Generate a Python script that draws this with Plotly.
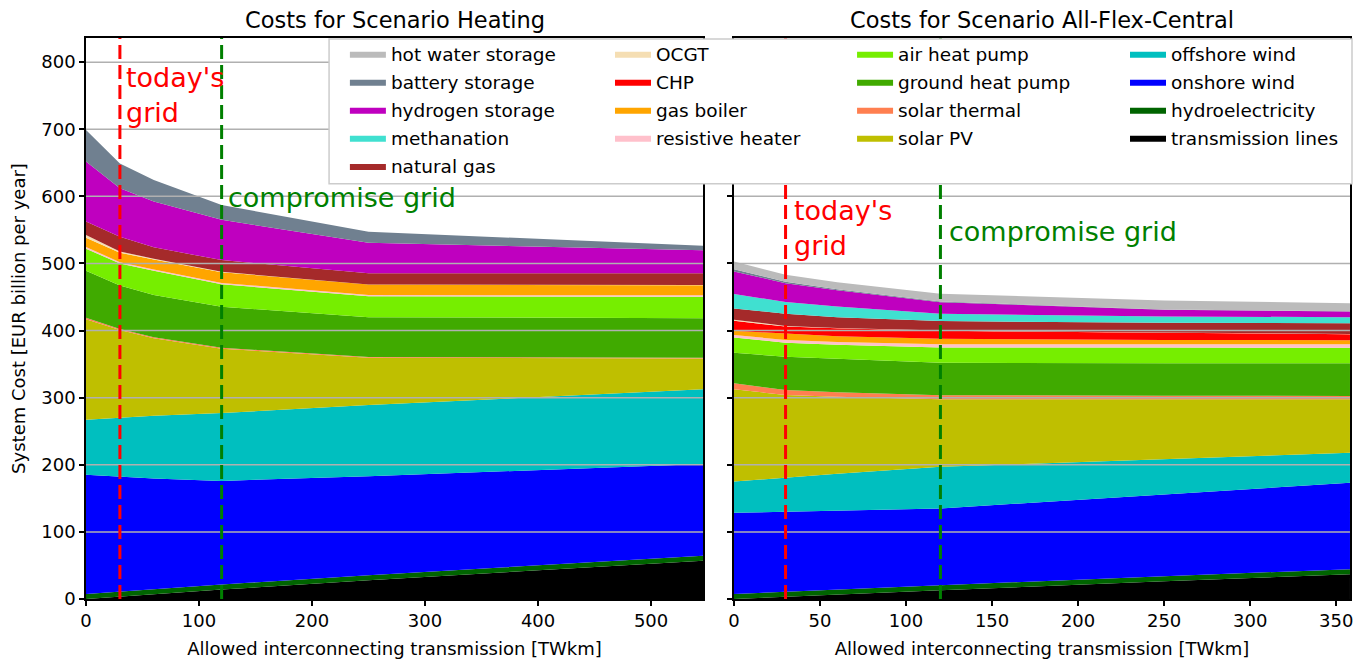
import plotly.graph_objects as go
from plotly.subplots import make_subplots

# allowed interconnecting transmission volume [TWkm]
heating_x = [0, 30, 60, 120, 250, 546]
flex_x = [0, 30, 60, 120, 250, 358]

# Scenario Heating, system cost by technology [EUR billion per year]
heating_transmission = [0, 3.5, 7, 14, 28, 57]
heating_hydro = [7.5, 7.5, 7.5, 7.5, 7.5, 7.5]
heating_onshore = [177.5, 171, 165, 154.5, 147.5, 136.5]
heating_offshore = [82, 88, 93.5, 101, 106, 111.5]
heating_solar_pv = [150, 131, 115.5, 96, 70.5, 46]
heating_solar_thermal = [2, 1.5, 1.5, 1.5, 1, 1]
heating_ground_hp = [70, 64.5, 63, 61, 59.5, 59]
heating_air_hp = [33, 33, 36, 33.5, 31, 32]
heating_resistive = [2.5, 2, 2, 2, 2, 2]
heating_gas_boiler = [14, 14, 15, 16, 15.5, 15]
heating_chp = [0, 0, 0, 0, 0, 0]
heating_ocgt = [4, 2, 1, 0.5, 0.3, 0.3]
heating_natural_gas = [20, 22, 17, 17.5, 16.5, 17.5]
heating_methanation = [0, 0, 0, 0, 0, 0]
heating_hydrogen = [89.5, 72, 68.5, 60, 45.5, 34.5]
heating_battery = [47, 37, 32, 22, 16.5, 6.5]
heating_hot_water = [0, 0, 0, 0, 0, 0]

# Scenario All-Flex-Central
flex_transmission = [0, 3, 6.5, 13, 26.5, 37]
flex_hydro = [7.5, 7.5, 7.5, 7.5, 7.5, 7.5]
flex_onshore = [121, 119.5, 117.5, 114.5, 121.7, 128.8]
flex_offshore = [46.5, 51, 55, 62, 52.7, 44.7]
flex_solar_pv = [137.5, 123, 115, 100.8, 89.4, 79.6]
flex_solar_thermal = [9, 7.5, 6.5, 6, 5.2, 4.9]
flex_ground_hp = [45.6, 49.5, 50, 48.2, 48.5, 48.8]
flex_air_hp = [22.5, 21, 21, 22.8, 23.2, 23.2]
flex_resistive = [4, 4, 4, 5, 4.8, 5]
flex_gas_boiler = [6, 9, 8.5, 8, 6.5, 6.2]
flex_chp = [15, 11, 12, 12, 10.7, 9]
flex_ocgt = [1.5, 1, 0.5, 0.3, 0.3, 0.3]
flex_natural_gas = [17, 18, 16, 14, 14.5, 16]
flex_methanation = [21.5, 17.5, 16, 11, 9.5, 9]
flex_hydrogen = [33.3, 28.2, 24, 17.3, 10, 8.4]
flex_battery = [3.5, 2, 1.5, 1, 0.5, 0.3]
flex_hot_water = [11.4, 10.5, 10.5, 11.6, 13.5, 12.2]

today_grid = 30
compromise_grid = 120
y_ticks = [0, 100, 200, 300, 400, 500, 600, 700, 800]
heating_x_ticks = [0, 100, 200, 300, 400, 500]
flex_x_ticks = [0, 50, 100, 150, 200, 250, 300, 350]

FONT = "DejaVu Sans"
LEFT_DOMAIN = [0, 0.4874]
RIGHT_DOMAIN = [0.5118, 0.9984]

# stacked bottom -> top: (name, colour, legend column, heating, flex)
techs = [
    ("transmission lines", "#000000", "legend4", heating_transmission, flex_transmission),
    ("hydroelectricity", "#006400", "legend4", heating_hydro, flex_hydro),
    ("onshore wind", "#0000ff", "legend4", heating_onshore, flex_onshore),
    ("offshore wind", "#00bfbf", "legend4", heating_offshore, flex_offshore),
    ("solar PV", "#bfbf00", "legend3", heating_solar_pv, flex_solar_pv),
    ("solar thermal", "#ff7f50", "legend3", heating_solar_thermal, flex_solar_thermal),
    ("ground heat pump", "#40aa00", "legend3", heating_ground_hp, flex_ground_hp),
    ("air heat pump", "#76ee00", "legend3", heating_air_hp, flex_air_hp),
    ("resistive heater", "#ffc0cb", "legend2", heating_resistive, flex_resistive),
    ("gas boiler", "#ffa500", "legend2", heating_gas_boiler, flex_gas_boiler),
    ("CHP", "#ff0000", "legend2", heating_chp, flex_chp),
    ("OCGT", "#f5deb3", "legend2", heating_ocgt, flex_ocgt),
    ("natural gas", "#a52a2a", "legend", heating_natural_gas, flex_natural_gas),
    ("methanation", "#40e0d0", "legend", heating_methanation, flex_methanation),
    ("hydrogen storage", "#bf00bf", "legend", heating_hydrogen, flex_hydrogen),
    ("battery storage", "#708090", "legend", heating_battery, flex_battery),
    ("hot water storage", "#bbbbbb", "legend", heating_hot_water, flex_hot_water),
]

fig = make_subplots(rows=1, cols=2, subplot_titles=[
    "Costs for Scenario Heating", "Costs for Scenario All-Flex-Central"])
for ann, dom in zip(fig.layout.annotations, (LEFT_DOMAIN, RIGHT_DOMAIN)):
    ann.x = sum(dom) / 2
    ann.font = dict(family=FONT, size=22.5, color="black")
    ann.yshift = 3

for i, (name, color, legend, heat_vals, flex_vals) in enumerate(techs):
    rank = 1000 - 10 * i  # top of the stack first in the legend
    fig.add_trace(go.Scatter(
        x=heating_x, y=heat_vals, name=name, mode="lines",
        stackgroup="heating", line=dict(width=0, color=color),
        fillcolor=color, legend=legend, legendgroup=name, legendrank=rank,
        showlegend=True,
    ), row=1, col=1)
    fig.add_trace(go.Scatter(
        x=flex_x, y=flex_vals, name=name, mode="lines",
        stackgroup="flex", line=dict(width=0, color=color),
        fillcolor=color, legend=legend, legendgroup=name, legendrank=rank,
        showlegend=False,
    ), row=1, col=2)

# grid lines drawn over the areas, like the original
for c in (1, 2):
    for v in y_ticks[1:]:
        fig.add_hline(y=v, line=dict(color="#b0b0b0", width=1.5), layer="above", row=1, col=c)
    fig.add_vline(x=today_grid, line=dict(color="red", width=3, dash="14px,6px"),
                  layer="above", row=1, col=c)
    fig.add_vline(x=compromise_grid, line=dict(color="green", width=3, dash="14px,6px"),
                  layer="above", row=1, col=c)

# labels for the two reference grids
label_font = dict(family=FONT, size=27)
fig.add_annotation(x=34, y=751, xref="x", yref="y", text="today's<br>grid", showarrow=False,
                   xanchor="left", yanchor="middle", align="left", font=dict(label_font, color="red"))
fig.add_annotation(x=124, y=599, xref="x", yref="y", text="compromise grid", showarrow=False,
                   xanchor="left", yanchor="middle", font=dict(label_font, color="green"))
fig.add_annotation(x=34, y=553, xref="x2", yref="y2", text="today's<br>grid", showarrow=False,
                   xanchor="left", yanchor="middle", align="left", font=dict(label_font, color="red"))
fig.add_annotation(x=124, y=548, xref="x2", yref="y2", text="compromise grid", showarrow=False,
                   xanchor="left", yanchor="middle", font=dict(label_font, color="green"))

# legend frame spanning the four legend columns
fig.add_shape(type="rect", xref="paper", yref="paper", x0=0.192, x1=1.0, y0=0.74, y1=0.998,
              line=dict(color="#cccccc", width=1.5), fillcolor="white", layer="above")

legend_style = dict(xanchor="left", yanchor="top", y=1.005,
                    bgcolor="rgba(0,0,0,0)", borderwidth=0, traceorder="grouped",
                    tracegroupgap=1, itemwidth=36,
                    font=dict(family=FONT, size=18.5, color="black"))

axis_style = dict(showline=True, linecolor="black", linewidth=1.5, mirror=True,
                  ticks="outside", ticklen=5, tickwidth=1.5, tickcolor="black",
                  showgrid=False, zeroline=False, automargin=False,
                  tickfont=dict(family=FONT, size=18, color="black"),
                  title_font=dict(family=FONT, size=18, color="black"))

# the page body adds an 8px offset, so the figure is 8px smaller on each side
fig.update_layout(
    width=1360, height=654,
    margin=dict(l=78, r=16, t=30, b=63),
    plot_bgcolor="white", paper_bgcolor="white",
    font=dict(family=FONT, color="black"),
    legend=dict(legend_style, x=0.2045),
    legend2=dict(legend_style, x=0.4139),
    legend3=dict(legend_style, x=0.6051),
    legend4=dict(legend_style, x=0.8207),
    xaxis=dict(axis_style, domain=LEFT_DOMAIN, range=[0, 546], tickvals=heating_x_ticks,
               title=dict(text="Allowed interconnecting transmission [TWkm]", standoff=12)),
    xaxis2=dict(axis_style, domain=RIGHT_DOMAIN, range=[0, 358], tickvals=flex_x_ticks,
                title=dict(text="Allowed interconnecting transmission [TWkm]", standoff=12)),
    yaxis=dict(axis_style, range=[0, 836], tickvals=y_ticks,
               title_text="System Cost [EUR billion per year]"),
    yaxis2=dict(axis_style, range=[0, 836], tickvals=y_ticks, showticklabels=False),
)

fig.write_html("out.html")
